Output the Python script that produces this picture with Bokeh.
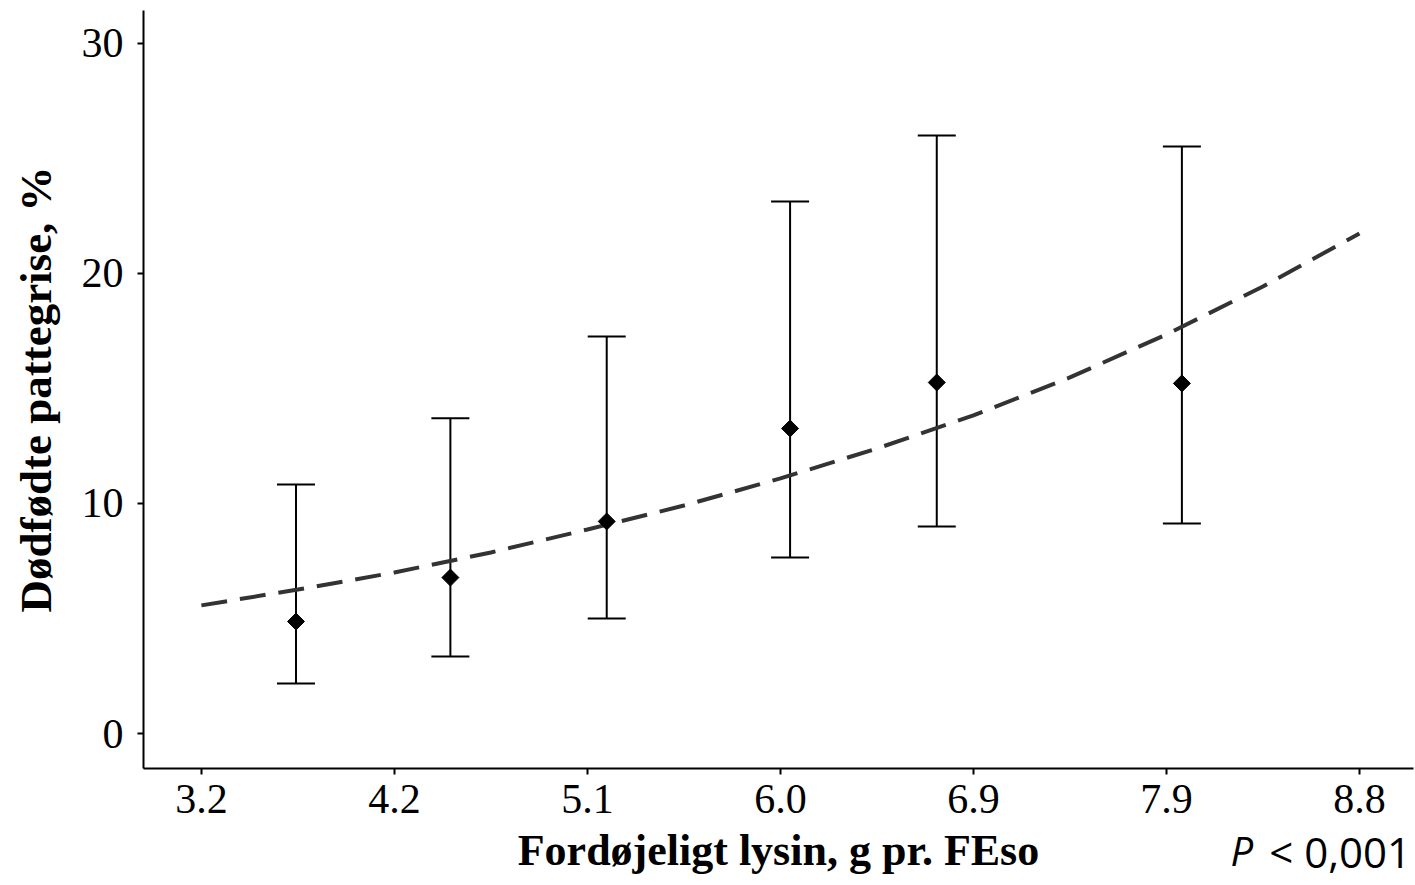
from bokeh.plotting import figure
from bokeh.models import (ColumnDataSource, Whisker, TeeHead, Range1d, FixedTicker,
                          LinearAxis)
from bokeh.embed import file_html
from bokeh.resources import INLINE

# ---- data ----
tick_positions = [0, 1, 2, 3, 4, 5, 6]
tick_labels = ["3.2", "4.2", "5.1", "6.0", "6.9", "7.9", "8.8"]

point_x = [0.49, 1.29, 2.10, 3.05, 3.81, 5.08]
point_mean = [4.87, 6.78, 9.22, 13.26, 15.26, 15.22]
point_lower = [2.17, 3.35, 5.00, 7.65, 9.00, 9.13]
point_upper = [10.83, 13.70, 17.26, 23.13, 26.00, 25.52]

curve_x = [0, 0.5, 1.0, 1.5, 2.0, 2.5, 3.0, 3.5, 4.0, 4.5, 5.0, 5.5, 6.0]
curve_y = [5.57, 6.26, 7.00, 7.87, 8.87, 9.91, 11.09, 12.39, 13.83, 15.48, 17.35, 19.43, 21.74]

y_ticks = [0, 10, 20, 30]

p_symbol = "P"
p_value_text = "< 0,001"

SERIF = "Liberation Serif"
SANS = "Open Sans"

p = figure(width=1414, height=884, output_backend="svg", toolbar_location=None,
           x_range=Range1d(-0.30, 6.28), y_range=Range1d(-1.52, 31.43),
           min_border_left=143, min_border_right=1, min_border_top=10, min_border_bottom=116)
p.outline_line_color = None
p.xgrid.visible = False
p.ygrid.visible = False
p.background_fill_color = "white"
p.border_fill_color = "white"

# dashed fitted curve
p.line(curve_x, curve_y, line_color="#333333", line_width=4, line_dash="26 13")

# error bars
src = ColumnDataSource(dict(x=point_x, y=point_mean, lo=point_lower, hi=point_upper))
w = Whisker(base="x", upper="hi", lower="lo", source=src, line_color="black", line_width=2,
            upper_head=TeeHead(size=38, line_color="black", line_width=2),
            lower_head=TeeHead(size=38, line_color="black", line_width=2))
p.add_layout(w)

# diamonds
p.scatter("x", "y", source=src, marker="square", angle=0.7853981634, size=12,
          fill_color="black", line_color="black")

# axes
for ax in (p.xaxis[0], p.yaxis[0]):
    ax.axis_line_color = "black"
    ax.axis_line_width = 2
    ax.major_tick_line_color = "black"
    ax.major_tick_line_width = 2
    ax.major_tick_in = 0
    ax.major_tick_out = 6
    ax.minor_tick_line_color = None
    ax.major_label_text_font = SERIF
    ax.major_label_text_font_size = "42px"
    ax.major_label_text_color = "black"
    ax.axis_label_text_font = SERIF
    ax.axis_label_text_font_style = "bold"
    ax.axis_label_text_color = "black"

p.xaxis.ticker = FixedTicker(ticks=tick_positions)
p.xaxis.major_label_overrides = {t: l for t, l in zip(tick_positions, tick_labels)}
p.xaxis.axis_label = "Fordøjeligt lysin, g pr. FEso"
p.xaxis.axis_label_text_font_size = "44px"
p.xaxis.major_label_standoff = 10
p.xaxis.axis_label_standoff = 10

p.yaxis.ticker = FixedTicker(ticks=y_ticks)
p.yaxis.axis_label = "Dødfødte pattegrise, %"
p.yaxis.axis_label_text_font_size = "45px"
p.yaxis.major_label_standoff = 14
p.yaxis.axis_label_standoff = 18


# P-value annotation, drawn as label-only axes in the bottom panel
def label_axis(pos, text, style, size, standoff):
    ax = LinearAxis(ticker=FixedTicker(ticks=[pos]),
                    major_label_overrides={pos: text})
    ax.axis_line_color = None
    ax.major_tick_line_color = None
    ax.minor_tick_line_color = None
    ax.major_tick_out = 0
    ax.major_tick_in = 0
    ax.major_label_text_font = SANS
    ax.major_label_text_font_size = size
    ax.major_label_text_font_style = style
    ax.major_label_text_color = "black"
    ax.major_label_standoff = standoff
    return ax


p.add_layout(label_axis(5.90, p_value_text, "normal", "42px", -55), "below")
p.add_layout(label_axis(5.39, p_symbol, "italic", "40px", -60), "below")

open("out.html", "w").write(file_html(p, INLINE))
